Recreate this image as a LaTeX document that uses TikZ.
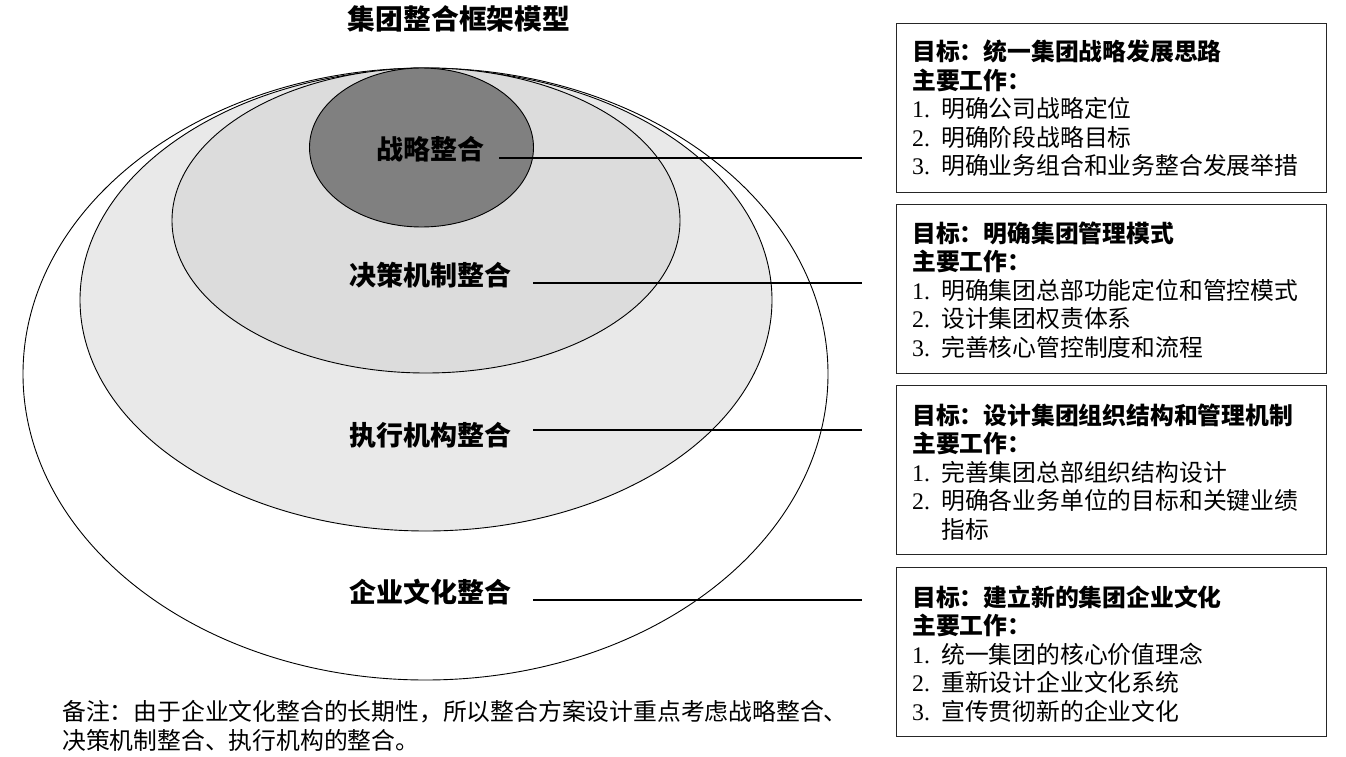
\documentclass[tikz,border=0pt]{standalone}
\usepackage{fontspec}
\setmainfont{Liberation Serif}
\newfontfamily\cjk{Noto Sans CJK SC}
\definecolor{dkgray}{HTML}{808080}
\definecolor{midgray}{HTML}{DCDCDC}
\definecolor{ltgray}{HTML}{E9E9E9}
\begin{document}
\begin{tikzpicture}[x=1pt,y=-1pt,
  ell/.style={draw=black, line width=0.9pt},
  lbl/.style={font=\cjk\bfseries\fontsize{27}{27}\selectfont, anchor=base, inner sep=0pt},
  boxframe/.style={draw=black!85, line width=1.4pt, anchor=north west, inner sep=0pt, minimum width=430pt, minimum height=169pt},
  hd/.style={font=\cjk\bfseries\fontsize{23.8}{23.8}\selectfont, anchor=base west, inner sep=0pt},
  tx/.style={font=\cjk\fontsize{23.8}{23.8}\selectfont, anchor=base west, inner sep=0pt},
  num/.style={font=\fontsize{23.8}{23.8}\selectfont, anchor=base west, inner sep=0pt},
  conn/.style={draw=black, line width=1.1pt}]
\useasboundingbox[fill=white] (0,0) rectangle (1346,757);

% nested ellipses
\draw[ell, fill=white]    (425.5,374) ellipse [x radius=402.5, y radius=306];
\draw[ell, fill=ltgray]   (426,300)   ellipse [x radius=346, y radius=231];
\draw[ell, fill=midgray]  (426,220.5) ellipse [x radius=254, y radius=152.5];
\draw[ell, fill=dkgray]   (421.5,147.5) ellipse [x radius=112, y radius=79.5];

% title
\node[lbl, font=\cjk\bfseries\fontsize{27.8}{27.8}\selectfont] (title) at (459,30) {集团整合框架模型};

% ring labels
\node[lbl] (l1) at (430,160) {战略整合};
\node[lbl] (l2) at (430,285) {决策机制整合};
\node[lbl] (l3) at (430,445) {执行机构整合};
\node[lbl] (l4) at (430,602) {企业文化整合};

% connector ends
\coordinate (s1) at (499,158);  \coordinate (e1) at (862,158);
\coordinate (s2) at (533,283);  \coordinate (e2) at (862,283);
\coordinate (s3) at (533,430);  \coordinate (e3) at (862,430);
\coordinate (s4) at (533,600);  \coordinate (e4) at (862,600);
\draw[conn] (s1) -- (e1);
\draw[conn] (s2) -- (e2);
\draw[conn] (s3) -- (e3);
\draw[conn] (s4) -- (e4);

% boxes
\node[boxframe] (b1) at (896,23)  {};
\node[boxframe] (b2) at (896,204) {};
\node[boxframe] (b3) at (896,385) {};
\node[boxframe] (b4) at (896,567) {};

% box 1
\node[hd] (b1h) at (912,61) {目标：统一集团战略发展思路};
\node[hd] (b1w) at (912,89.5) {主要工作：};
\node[num] (b1n1) at (912,118) {1.}; \node[tx] (b1t1) at (941,118) {明确公司战略定位};
\node[num] (b1n2) at (912,146.5) {2.}; \node[tx] (b1t2) at (941,146.5) {明确阶段战略目标};
\node[num] (b1n3) at (912,175) {3.}; \node[tx] (b1t3) at (941,175) {明确业务组合和业务整合发展举措};

% box 2
\node[hd] (b2h) at (912,242) {目标：明确集团管理模式};
\node[hd] (b2w) at (912,270.5) {主要工作：};
\node[num] (b2n1) at (912,299) {1.}; \node[tx] (b2t1) at (941,299) {明确集团总部功能定位和管控模式};
\node[num] (b2n2) at (912,327.5) {2.}; \node[tx] (b2t2) at (941,327.5) {设计集团权责体系};
\node[num] (b2n3) at (912,356) {3.}; \node[tx] (b2t3) at (941,356) {完善核心管控制度和流程};

% box 3
\node[hd] (b3h) at (912,424) {目标：设计集团组织结构和管理机制};
\node[hd] (b3w) at (912,452.5) {主要工作：};
\node[num] (b3n1) at (912,481) {1.}; \node[tx] (b3t1) at (941,481) {完善集团总部组织结构设计};
\node[num] (b3n2) at (912,509.5) {2.}; \node[tx] (b3t2) at (941,509.5) {明确各业务单位的目标和关键业绩};
\node[tx] (b3t3) at (941,538) {指标};

% box 4
\node[hd] (b4h) at (912,606) {目标：建立新的集团企业文化};
\node[hd] (b4w) at (912,634.5) {主要工作：};
\node[num] (b4n1) at (912,663) {1.}; \node[tx] (b4t1) at (941,663) {统一集团的核心价值理念};
\node[num] (b4n2) at (912,691.5) {2.}; \node[tx] (b4t2) at (941,691.5) {重新设计企业文化系统};
\node[num] (b4n3) at (912,720) {3.}; \node[tx] (b4t3) at (941,720) {宣传贯彻新的企业文化};

% footnote
\node[tx] (fn1) at (62,720) {备注：由于企业文化整合的长期性，所以整合方案设计重点考虑战略整合、};
\node[tx] (fn2) at (62,749) {决策机制整合、执行机构的整合。};
\end{tikzpicture}
\end{document}
